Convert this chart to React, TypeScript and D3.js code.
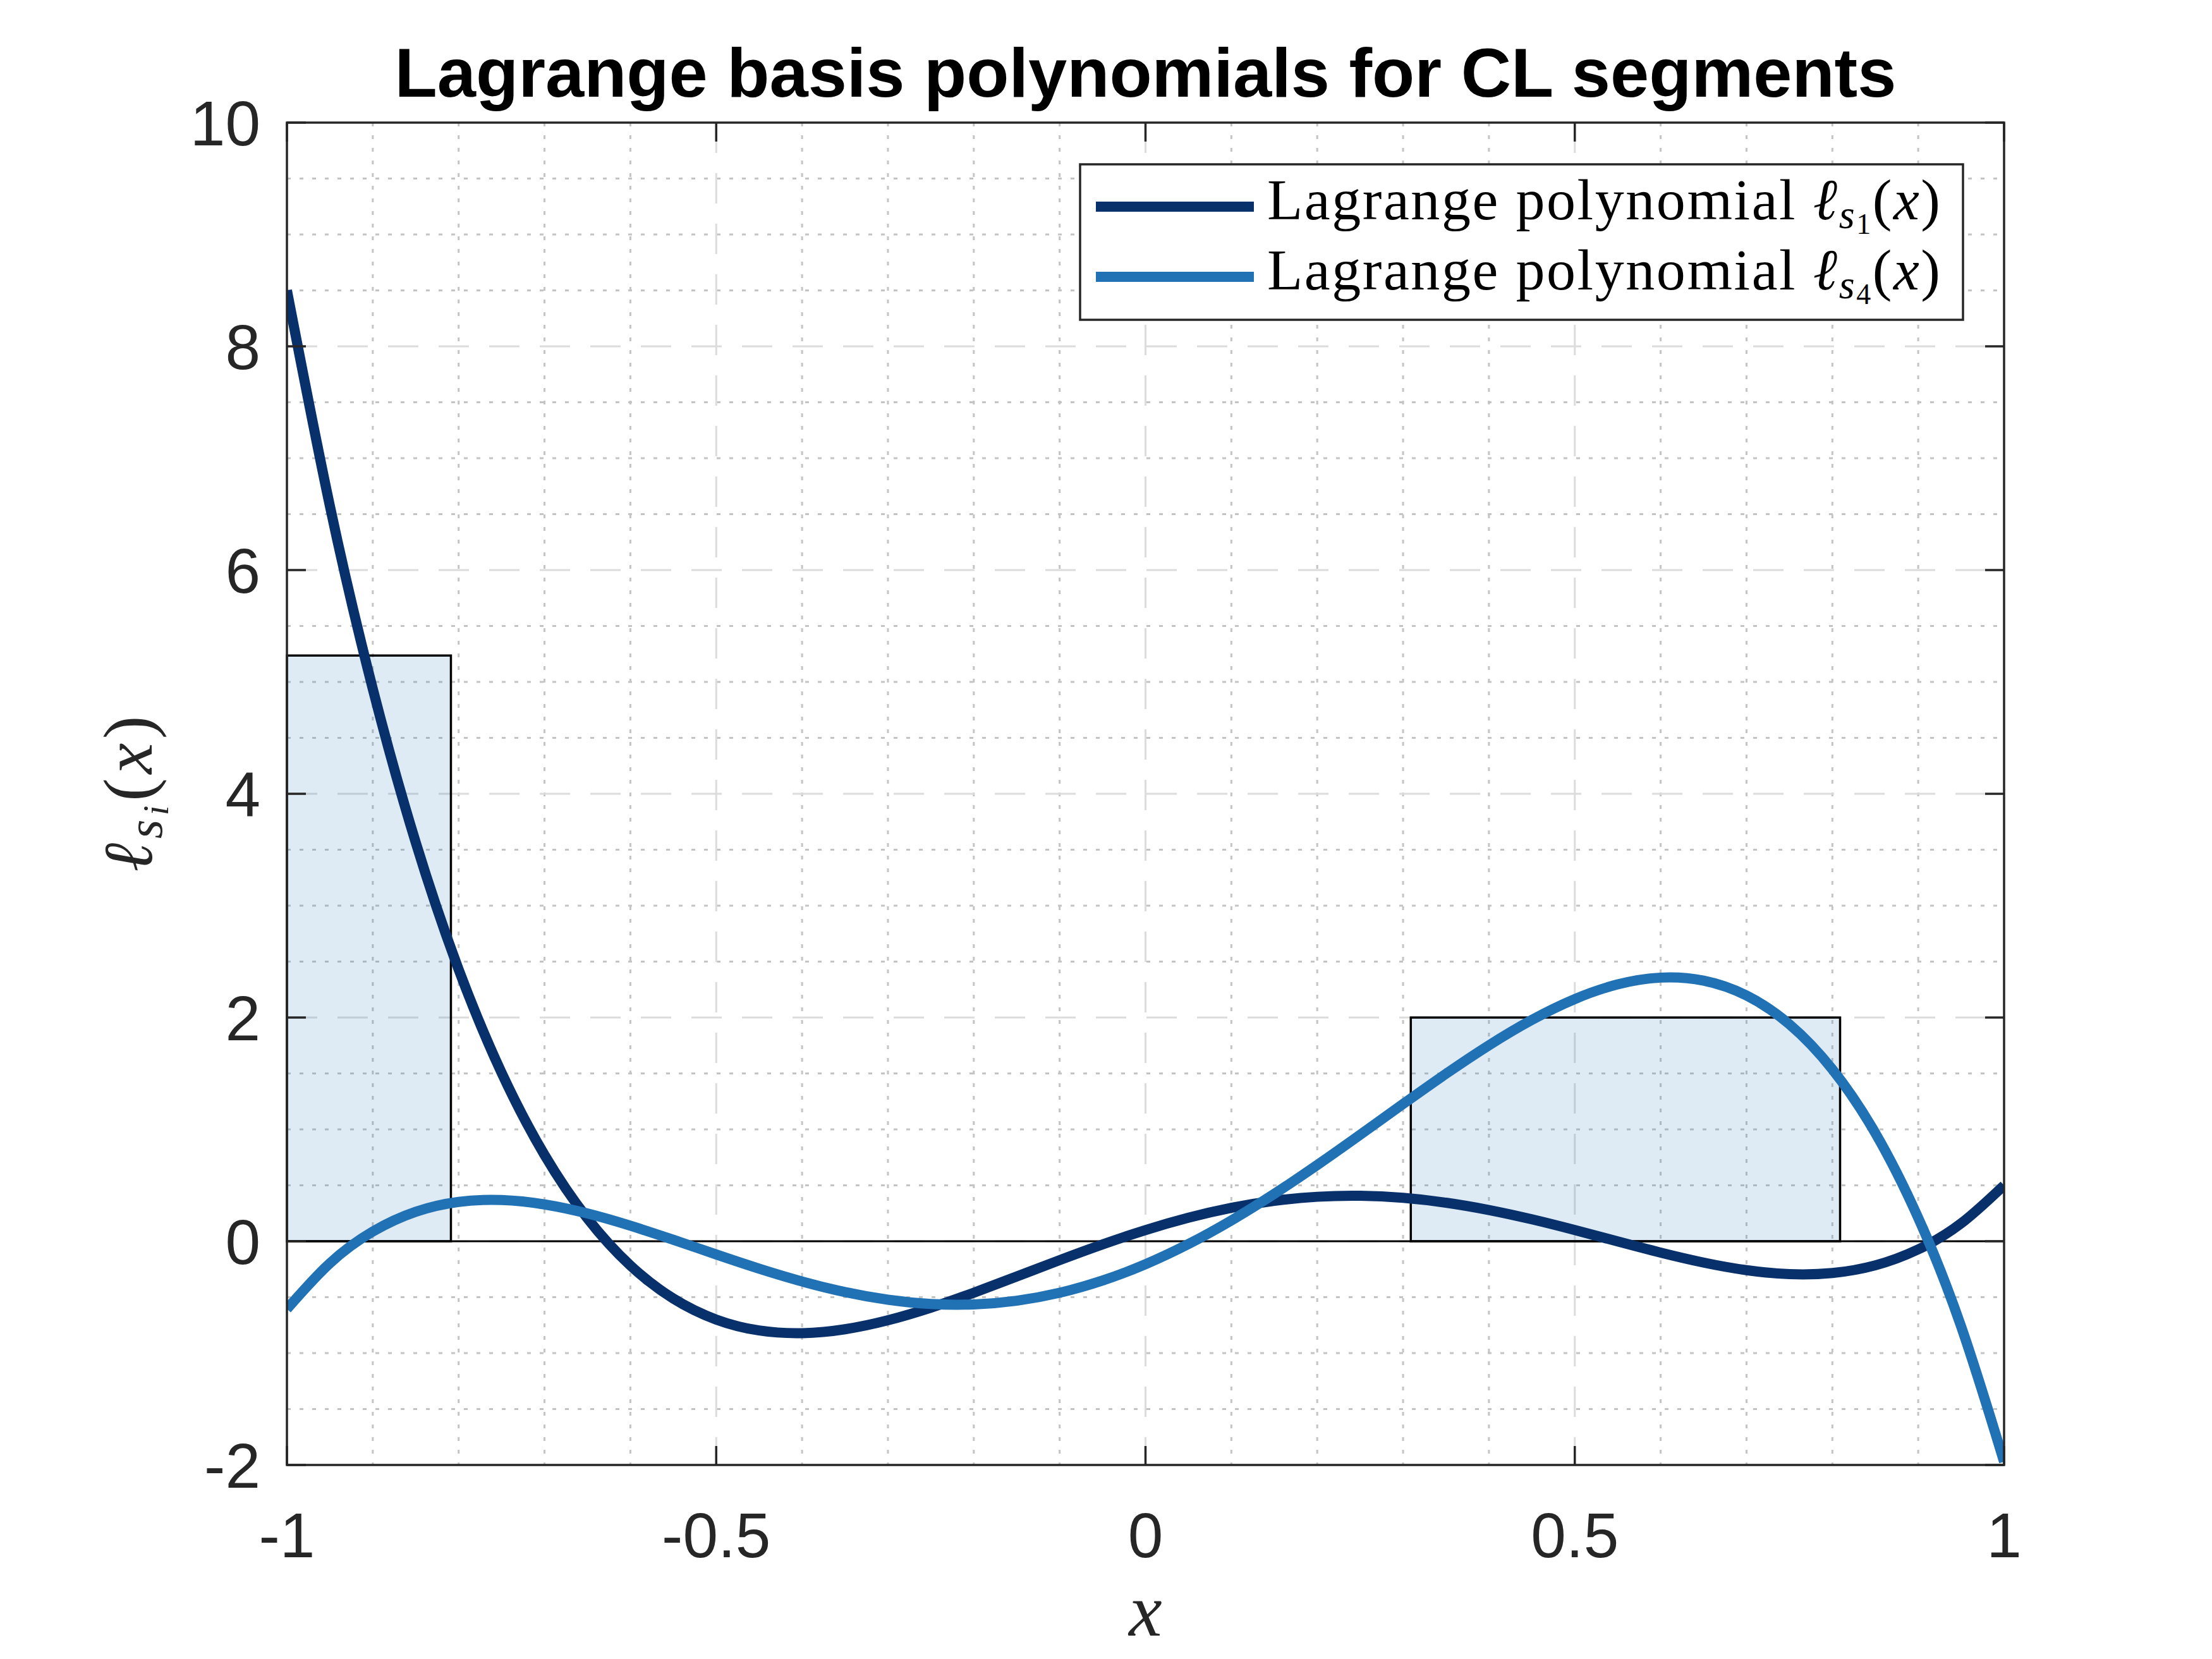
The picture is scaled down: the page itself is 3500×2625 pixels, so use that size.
import * as d3 from 'd3';

// sample positions along [-1, 1]
const xSamples = [
  -1, -0.95, -0.9, -0.85, -0.8, -0.75, -0.7, -0.65, -0.6, -0.55, -0.5,
  -0.45, -0.4, -0.35, -0.3, -0.25, -0.2, -0.15, -0.1, -0.05, 0,
  0.05, 0.1, 0.15, 0.2, 0.25, 0.3, 0.35, 0.4, 0.45, 0.5,
  0.55, 0.6, 0.65, 0.7, 0.75, 0.8, 0.85, 0.9, 0.95, 1,
];

// l_{s1}(x)
const ellS1 = [
  8.5, 6.5743, 4.9384, 3.5655, 2.4296, 1.5063, 0.772, 0.2047, -0.2168, -0.5122, -0.7,
  -0.7978, -0.8216, -0.7866, -0.7064, -0.5938, -0.46, -0.3154, -0.1688, -0.0282, 0.1,
  0.2103, 0.2984, 0.3615, 0.3976, 0.4063, 0.388, 0.3447, 0.2792, 0.1959, 0.1,
  -0.0018, -0.1016, -0.1905, -0.2584, -0.2938, -0.284, -0.2153, -0.0728, 0.1599, 0.5,
];

// l_{s4}(x)
const ellS4 = [
  -0.6056, -0.1965, 0.0867, 0.2635, 0.3518, 0.3684, 0.329, 0.2481, 0.1387, 0.0131, -0.118,
  -0.245, -0.3594, -0.454, -0.5227, -0.5608, -0.5645, -0.5315, -0.4605, -0.3514, -0.2056,
  -0.0252, 0.1861, 0.4235, 0.6811, 0.9517, 1.227, 1.4973, 1.752, 1.979, 2.1652,
  2.2963, 2.3566, 2.3293, 2.1966, 1.9392, 1.5369, 0.9679, 0.2096, -0.762, -1.9716,
];

// CL segments shown as boxes (height = 1 / length)
const segStart = [-1, 0.309];
const segEnd = [-0.809, 0.809];
const segHeight = [5.236, 2.0];

const xTicks = [-1, -0.5, 0, 0.5, 1];
const xTickLabels = ['-1', '-0.5', '0', '0.5', '1'];
const yTicks = [-2, 0, 2, 4, 6, 8, 10];
const yTickLabels = ['-2', '0', '2', '4', '6', '8', '10'];

const seriesNames = ['1', '4'];
const seriesColors = ['#08306b', '#2171b5'];

const W = 3500;
const H = 2625;
const left = 454;
const right = 3171;
const top = 194;
const bottom = 2318;

const axisColor = '#262626';
const sans = '"Liberation Sans", Arial, Helvetica, sans-serif';
const serif = '"Liberation Serif", "Times New Roman", serif';

export default function App() {
  const x = d3.scaleLinear().domain([-1, 1]).range([left, right]);
  const y = d3.scaleLinear().domain([-2, 10]).range([bottom, top]);

  const line = d3
    .line<number>()
    .x((_, i) => x(xSamples[i]))
    .y((d) => y(d))
    .curve(d3.curveNatural);

  const minorX = x.ticks(20).filter((t) => !xTicks.some((m) => Math.abs(m - t) < 1e-9));
  const minorY = y.ticks(24).filter((t) => !yTicks.some((m) => Math.abs(m - t) < 1e-9));

  const series = [ellS1, ellS4];

  const legX = 1709;
  const legY = 260;
  const legW = 1397;
  const legH = 246;

  return (
    <svg
      width={W}
      height={H}
      viewBox={`0 0 ${W} ${H}`}
      style={{ position: 'absolute', left: 0, top: 0, background: '#fff' }}
    >
      <rect x={0} y={0} width={W} height={H} fill="#fff" />
      <defs>
        <clipPath id="plot-clip">
          <rect x={left} y={top} width={right - left} height={bottom - top} />
        </clipPath>
      </defs>

      {/* minor grid */}
      <g stroke="#c4c4c4" strokeWidth={3} strokeDasharray="6 14">
        {minorX.map((t) => (
          <line key={'mx' + t} x1={x(t)} x2={x(t)} y1={top} y2={bottom} />
        ))}
        {minorY.map((t) => (
          <line key={'my' + t} x1={left} x2={right} y1={y(t)} y2={y(t)} />
        ))}
      </g>
      {/* major grid */}
      <g stroke="#dcdcdc" strokeWidth={3} strokeDasharray="48 32">
        {xTicks.slice(1, -1).map((t) => (
          <line key={'gx' + t} x1={x(t)} x2={x(t)} y1={top} y2={bottom} />
        ))}
        {yTicks.slice(1, -1).map((t) => (
          <line key={'gy' + t} x1={left} x2={right} y1={y(t)} y2={y(t)} />
        ))}
      </g>

      {/* segment boxes */}
      {segStart.map((s, i) => (
        <rect
          key={'seg' + i}
          x={x(s)}
          y={y(segHeight[i])}
          width={x(segEnd[i]) - x(s)}
          height={y(0) - y(segHeight[i])}
          fill="#2171b5"
          fillOpacity={0.15}
          stroke="#000"
          strokeWidth={3.5}
        />
      ))}

      {/* zero line */}
      <line x1={left} x2={right} y1={y(0)} y2={y(0)} stroke="#000" strokeWidth={3} />

      {/* curves */}
      <g clipPath="url(#plot-clip)">
        {series.map((s, i) => (
          <path
            key={'curve' + i}
            d={line(s) || ''}
            fill="none"
            stroke={seriesColors[i]}
            strokeWidth={16}
            strokeLinecap="butt"
            strokeLinejoin="round"
          />
        ))}
      </g>

      {/* axes box and ticks */}
      <g stroke={axisColor} strokeWidth={3.5}>
        <rect x={left} y={top} width={right - left} height={bottom - top} fill="none" />
        {xTicks.map((t) => (
          <g key={'tx' + t}>
            <line x1={x(t)} x2={x(t)} y1={bottom} y2={bottom - 30} />
            <line x1={x(t)} x2={x(t)} y1={top} y2={top + 30} />
          </g>
        ))}
        {yTicks.map((t) => (
          <g key={'ty' + t}>
            <line x1={left} x2={left + 30} y1={y(t)} y2={y(t)} />
            <line x1={right} x2={right - 30} y1={y(t)} y2={y(t)} />
          </g>
        ))}
      </g>

      {/* tick labels */}
      <g fontFamily={sans} fontSize={100} fill={axisColor}>
        {xTicks.map((t, i) => (
          <text key={'lx' + t} x={x(t)} y={2464} textAnchor="middle">
            {xTickLabels[i]}
          </text>
        ))}
        {yTicks.map((t, i) => (
          <text key={'ly' + t} x={412} y={y(t) + 36} textAnchor="end">
            {yTickLabels[i]}
          </text>
        ))}
      </g>

      {/* title */}
      <text
        x={(left + right) / 2}
        y={153}
        textAnchor="middle"
        fontFamily={sans}
        fontWeight="bold"
        fontSize={110}
        fill="#000"
      >
        Lagrange basis polynomials for CL segments
      </text>

      {/* axis labels */}
      <text
        x={(left + right) / 2}
        y={2588}
        textAnchor="middle"
        fontFamily={serif}
        fontStyle="italic"
        fontSize={118}
        fill={axisColor}
      >
        x
      </text>
      <text
        transform={`translate(240, ${(top + bottom) / 2}) rotate(-90)`}
        textAnchor="middle"
        fontFamily={serif}
        fontSize={110}
        fill={axisColor}
        textLength={247}
        lengthAdjust="spacing"
      >
        <tspan fontStyle="italic">ℓ</tspan>
        <tspan fontStyle="italic" fontSize={78} dy={16}>s</tspan>
        <tspan fontStyle="italic" fontSize={56} dy={10}>i</tspan>
        <tspan dy={-26}>(</tspan>
        <tspan fontStyle="italic">x</tspan>
        <tspan>)</tspan>
      </text>

      {/* legend */}
      <rect
        x={legX}
        y={legY}
        width={legW}
        height={legH}
        fill="#fff"
        stroke={axisColor}
        strokeWidth={3.5}
      />
      {seriesNames.map((n, i) => {
        const ly = 327 + i * 111;
        return (
          <g key={'leg' + i}>
            <line x1={1734} x2={1984} y1={ly} y2={ly} stroke={seriesColors[i]} strokeWidth={16} />
            <text
              x={2005}
              y={ly + 20}
              fontFamily={serif}
              fontSize={92}
              fill="#000"
              textLength={1065}
              lengthAdjust="spacing"
            >
              Lagrange polynomial{' '}
              <tspan fontStyle="italic">ℓ</tspan>
              <tspan fontStyle="italic" fontSize={64} dy={14}>s</tspan>
              <tspan fontSize={46} dy={9}>{n}</tspan>
              <tspan dy={-23}>(</tspan>
              <tspan fontStyle="italic">x</tspan>
              <tspan>)</tspan>
            </text>
          </g>
        );
      })}
    </svg>
  );
}
